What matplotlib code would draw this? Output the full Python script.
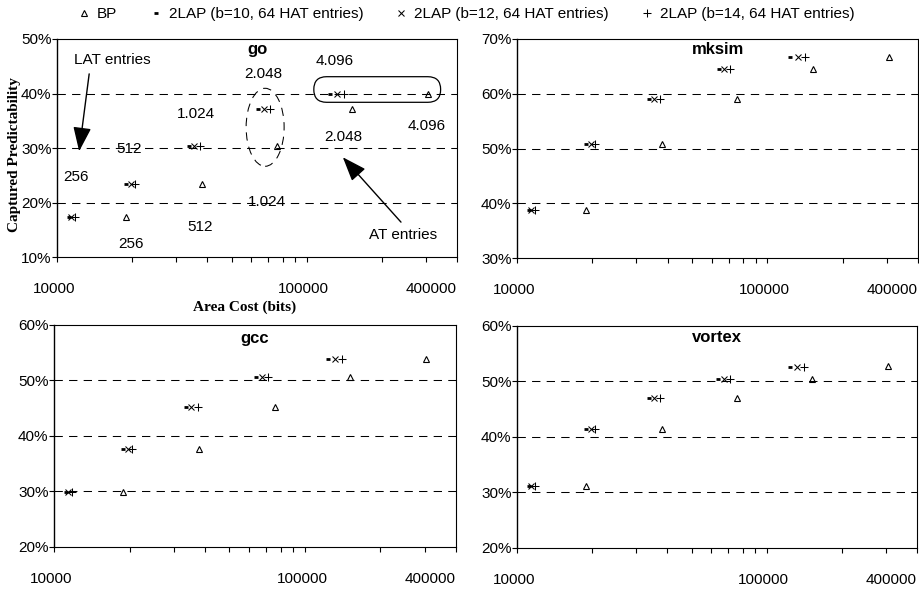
import matplotlib
matplotlib.use("Agg")
import matplotlib.pyplot as plt
from matplotlib.lines import Line2D
from matplotlib.patches import Ellipse, FancyBboxPatch
from matplotlib.transforms import IdentityTransform, ScaledTranslation, blended_transform_factory

plt.rcParams['font.family'] = ['Liberation Sans', 'DejaVu Sans']
plt.rcParams['font.size'] = 11

# area cost (bits) of each configuration
x_bp = [18900, 37900, 75800, 151700, 305000]
x_b10 = [11150, 18900, 33700, 64000, 123700]
x_b12 = [11400, 19700, 35200, 67200, 132000]
x_b14 = [11800, 20500, 37400, 71200, 140800]

# captured predictability (%) -- the three 2LAP variants read identical
go_bp = [17.3, 23.4, 30.4, 37.2, 39.9]
go_2lap = [17.3, 23.4, 30.4, 37.2, 40.0]
mksim_bp = [38.7, 50.9, 59.1, 64.6, 66.8]
mksim_2lap = [38.7, 50.9, 59.1, 64.6, 66.8]
gcc_bp = [29.9, 37.7, 45.2, 50.7, 53.9]
gcc_2lap = [29.9, 37.7, 45.2, 50.6, 53.9]
vortex_bp = [31.1, 41.4, 47.0, 50.4, 52.7]
vortex_2lap = [31.1, 41.4, 47.0, 50.4, 52.6]

series_labels = ['BP', '2LAP (b=10, 64 HAT entries)',
                 '2LAP (b=12, 64 HAT entries)', '2LAP (b=14, 64 HAT entries)']
x_ticks = [10000, 100000, 400000]
x_tick_labels = ['10000', '100000', '400000']
entry_labels = ['256', '512', '1.024', '2.048', '4.096']

styles = [
    dict(marker='^', ms=4, mew=0.8, fillstyle='none'),
    dict(marker='_', ms=3, mew=2),
    dict(marker='x', ms=4.2, mew=0.75),
    dict(marker='+', ms=5.4, mew=0.75),
]

fig = plt.figure(figsize=(9.2, 5.9), dpi=100)

panels = [
    ('go', go_bp, go_2lap, (10, 50), [0.062, 0.5644, 0.4348, 0.3695], 0.953),
    ('mksim', mksim_bp, mksim_2lap, (30, 70), [0.562, 0.5627, 0.4359, 0.3712], 0.953),
    ('gcc', gcc_bp, gcc_2lap, (20, 60), [0.0587, 0.0729, 0.437, 0.3763], 0.937),
    ('vortex', vortex_bp, vortex_2lap, (20, 60), [0.562, 0.0712, 0.4348, 0.3763], 0.946),
]

axes = []
for name, bp, lap, ylim, rect, title_y in panels:
    ax = fig.add_axes(rect)
    axes.append(ax)
    ax.set_xscale('log')
    ax.set_xlim(10000, 400000)
    ax.set_ylim(*ylim)

    for y in range(ylim[0] + 10, ylim[1], 10):
        ax.axhline(y, color='black', lw=0.75, ls=(0, (8, 6)), zorder=1)

    xs = [x_bp, x_b10, x_b12, x_b14]
    ys = [bp, lap, lap, lap]
    for x, y, st, lab in zip(xs, ys, styles, series_labels):
        ax.plot(x, y, ls='none', color='black', label=lab, zorder=3, **st)

    ax.set_yticks(range(ylim[0], ylim[1] + 1, 10))
    ax.set_yticklabels([f'{v}%' for v in range(ylim[0], ylim[1] + 1, 10)])
    ax.set_xticks(x_ticks)
    ax.set_xticks([2e4, 3e4, 4e4, 5e4, 6e4, 7e4, 8e4, 9e4, 2e5, 3e5], minor=True)
    ax.tick_params(axis='both', which='both', direction='out', length=3.4,
                   width=0.8, color='black')
    ax.tick_params(axis='y', pad=0.5, labelsize=11)
    ax.tick_params(axis='x', which='both', labelbottom=False)
    for s in ax.spines.values():
        s.set_linewidth(0.8)
        s.set_color('black')
    ax.spines['left'].set_linewidth(1.0)

    # x tick labels sit well below the axis, as in the original
    trans = blended_transform_factory(ax.transData, ax.transAxes)
    for xv, txt, dx in zip(x_ticks, x_tick_labels, [-3, -3, -26]):
        off = ScaledTranslation(dx / 100, -0.32, fig.dpi_scale_trans)
        ax.text(xv, 0, txt, transform=trans + off, ha='center', va='center',
                fontsize=11)

    ax.text(0.5, title_y, name, transform=ax.transAxes, ha='center',
            va='center', fontsize=12, fontweight='bold')

ax_go = axes[0]

# entry-count labels in the go panel
lat_pos = [(11920, 24.7), (19520, 29.8), (36150, 36.2), (67200, 43.6), (129500, 46.0)]
at_pos = [(19770, 12.4), (37290, 15.45), (69000, 20.15), (140200, 32.1), (303400, 34.0)]
for (x, y), t in zip(lat_pos, entry_labels):
    ax_go.text(x, y, t, ha='center', va='center', fontsize=11, zorder=4)
for (x, y), t in zip(at_pos, entry_labels):
    ax_go.text(x, y, t, ha='center', va='center', fontsize=11, zorder=4)

arrow = dict(arrowstyle='-|>,head_length=0.75,head_width=0.28', mutation_scale=20,
             color='black', lw=1, shrinkA=0, shrinkB=0)
ax_go.text(16590, 46.1, 'LAT entries', ha='center', va='center', fontsize=11)
ax_go.annotate('', xy=(12260, 29.4), xytext=(13450, 43.6), arrowprops=arrow)
ax_go.text(243000, 14.0, 'AT entries', ha='center', va='center', fontsize=11)
ax_go.annotate('', xy=(139500, 28.3), xytext=(238500, 16.4), arrowprops=arrow)

# dashed oval around the 2.048 group, rounded box around the 4.096 group
c4 = ax_go.transData.transform((x_b12[3], go_2lap[3]))
b3 = ax_go.transData.transform((x_bp[2], go_bp[2]))
ax_go.add_patch(Ellipse(((c4[0] + 1.5), (c4[1] + b3[1]) / 2), 38, 78,
                        transform=IdentityTransform(), fill=False, ec='black',
                        lw=0.75, ls=(0, (8, 6)), zorder=2))
p0 = ax_go.transData.transform((x_b10[4], go_2lap[4]))
p1 = ax_go.transData.transform((x_bp[4], go_bp[4]))
h = 25.6
ax_go.add_patch(FancyBboxPatch((p0[0] - 16, p0[1] + 4 - h / 2), p1[0] + 13 - (p0[0] - 16), h,
                               boxstyle=f'round,pad=0,rounding_size={h / 2}',
                               transform=IdentityTransform(), fill=False,
                               ec='black', lw=0.9, zorder=2))

fig.text(15 / 920, 1 - 155 / 590, 'Captured Predictability', rotation=90,
         ha='center', va='center', fontsize=11, fontweight='bold',
         family='Liberation Serif')
fig.text(244.5 / 920, 1 - 307 / 590, 'Area Cost (bits)', ha='center',
         va='center', fontsize=11, fontweight='bold', family='Liberation Serif')

handles = [Line2D([], [], ls='none', color='black', **st) for st in styles]
fig.legend(handles, series_labels, loc='center', bbox_to_anchor=(0.507, 0.976),
           ncol=4, frameon=False, handlelength=0.8, handletextpad=0.45,
           columnspacing=2.1, fontsize=11, borderpad=0, borderaxespad=0)

fig.savefig('out.png', dpi=100)
